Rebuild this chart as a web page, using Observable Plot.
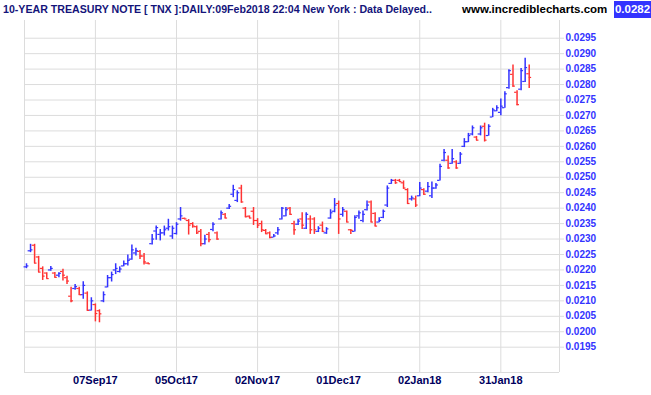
<!DOCTYPE html>
<html>
<head>
<meta charset="utf-8">
<script src="https://cdn.jsdelivr.net/npm/d3@7"></script>
<script src="https://cdn.jsdelivr.net/npm/@observablehq/plot@0.6"></script>
<style>
  html, body { margin: 0; padding: 0; background: #fff; }
  body { width: 651px; height: 395px; overflow: hidden; font-family: "Liberation Sans", Arial, sans-serif; }
  #hdr { position: relative; height: 20px; width: 651px; }
  #hdr span { position: absolute; white-space: nowrap; font-weight: bold; }
  #ttl { left: 3px; top: 3px; font-size: 11.5px; color: #14147a; transform-origin: 0 50%; }
  #url { left: 462px; top: 3px; font-size: 11.5px; color: #000; }
  #last { left: 614px; top: 1px; width: 37px; height: 17px; line-height: 17px; font-size: 11.5px; color: #fff; background: #3333ff; text-align: center; }
  #chart svg { display: block; }
  g[aria-label="y-axis tick"] { stroke: #dcdcdc !important; }
</style>
</head>
<body>
<div id="hdr">
  <span id="ttl">10-YEAR TREASURY NOTE [ TNX ]:DAILY:09Feb2018 22:04 New York : Data Delayed..</span>
  <span id="url">www.incrediblecharts.com</span>
  <span id="last">0.0282</span>
</div>
<div id="chart"></div>
<script>
// Daily OHLC, 10-year Treasury note (TNX), 14 Aug 2017 .. 09 Feb 2018 (trading days)
const open = [
  0.02210,0.02262,0.02280,0.02242,0.02205,0.02190,0.02200,0.02190,0.02183,0.02195,
  0.02175,0.02115,0.02140,0.02140,0.02120,0.02125,0.02070,0.02088,0.02068,0.02100,
  0.02145,0.02175,0.02200,0.02195,0.02213,0.02220,0.02235,0.02255,0.02260,0.02245,
  0.02222,0.02285,0.02326,0.02315,0.02320,0.02335,0.02310,0.02318,0.02365,0.02367,
  0.02360,0.02350,0.02340,0.02325,0.02285,0.02315,0.02331,0.02320,0.02365,0.02380,
  0.02400,0.02445,0.02425,0.02465,0.02400,0.02374,0.02390,0.02360,0.02350,0.02328,
  0.02320,0.02306,0.02320,0.02365,0.02375,0.02400,0.02350,0.02348,0.02365,0.02335,
  0.02365,0.02365,0.02325,0.02345,0.02320,0.02368,0.02390,0.02415,0.02380,0.02390,
  0.02330,0.02325,0.02375,0.02360,0.02395,0.02420,0.02383,0.02355,0.02370,0.02410,
  0.02480,0.02490,0.02490,0.02482,0.02460,0.02430,0.02430,0.02440,0.02460,0.02455,
  0.02440,0.02465,0.02490,0.02555,0.02555,0.02545,0.02550,0.02545,0.02600,0.02615,
  0.02640,0.02630,0.02640,0.02665,0.02635,0.02695,0.02715,0.02710,0.02725,0.02790,
  0.02833,0.02775,0.02785,0.02810,0.02835
];
const high = [
  0.02220,0.02283,0.02283,0.02244,0.02210,0.02191,0.02211,0.02192,0.02191,0.02202,
  0.02180,0.02144,0.02153,0.02144,0.02162,0.02129,0.02110,0.02090,0.02071,0.02129,
  0.02182,0.02193,0.02220,0.02210,0.02229,0.02248,0.02281,0.02270,0.02263,0.02253,
  0.02223,0.02315,0.02342,0.02331,0.02342,0.02364,0.02342,0.02353,0.02402,0.02368,
  0.02363,0.02353,0.02342,0.02331,0.02312,0.02321,0.02353,0.02323,0.02391,0.02383,
  0.02412,0.02474,0.02456,0.02474,0.02402,0.02375,0.02402,0.02366,0.02358,0.02331,
  0.02323,0.02315,0.02337,0.02402,0.02402,0.02402,0.02358,0.02364,0.02385,0.02385,
  0.02375,0.02369,0.02340,0.02355,0.02337,0.02395,0.02431,0.02423,0.02402,0.02391,
  0.02331,0.02375,0.02391,0.02391,0.02423,0.02423,0.02385,0.02369,0.02394,0.02472,
  0.02493,0.02493,0.02493,0.02488,0.02463,0.02439,0.02439,0.02483,0.02463,0.02483,
  0.02485,0.02480,0.02542,0.02590,0.02569,0.02590,0.02553,0.02580,0.02625,0.02642,
  0.02666,0.02632,0.02666,0.02675,0.02670,0.02723,0.02731,0.02753,0.02777,0.02848,
  0.02863,0.02780,0.02852,0.02885,0.02863
];
const low = [
  0.02204,0.02256,0.02220,0.02191,0.02166,0.02171,0.02196,0.02174,0.02175,0.02164,
  0.02153,0.02094,0.02134,0.02118,0.02105,0.02067,0.02067,0.02032,0.02029,0.02094,
  0.02142,0.02161,0.02185,0.02190,0.02210,0.02213,0.02231,0.02245,0.02234,0.02216,
  0.02218,0.02281,0.02296,0.02294,0.02310,0.02326,0.02299,0.02313,0.02358,0.02364,
  0.02313,0.02335,0.02315,0.02275,0.02281,0.02288,0.02324,0.02296,0.02362,0.02366,
  0.02396,0.02434,0.02418,0.02416,0.02369,0.02366,0.02344,0.02334,0.02321,0.02315,
  0.02301,0.02304,0.02312,0.02362,0.02372,0.02377,0.02312,0.02344,0.02331,0.02331,
  0.02315,0.02315,0.02321,0.02321,0.02315,0.02364,0.02385,0.02315,0.02371,0.02353,
  0.02315,0.02323,0.02364,0.02353,0.02391,0.02353,0.02340,0.02353,0.02366,0.02402,
  0.02477,0.02477,0.02483,0.02461,0.02412,0.02423,0.02402,0.02437,0.02442,0.02450,
  0.02431,0.02461,0.02488,0.02550,0.02526,0.02542,0.02526,0.02542,0.02596,0.02612,
  0.02634,0.02618,0.02634,0.02614,0.02633,0.02693,0.02712,0.02699,0.02723,0.02785,
  0.02791,0.02731,0.02780,0.02807,0.02787
];
const close = [
  0.02213,0.02265,0.02222,0.02193,0.02180,0.02172,0.02205,0.02176,0.02189,0.02183,
  0.02164,0.02100,0.02146,0.02120,0.02150,0.02069,0.02100,0.02059,0.02058,0.02120,
  0.02175,0.02185,0.02205,0.02203,0.02220,0.02231,0.02265,0.02262,0.02245,0.02226,
  0.02220,0.02300,0.02337,0.02320,0.02330,0.02340,0.02335,0.02348,0.02375,0.02365,
  0.02345,0.02342,0.02320,0.02285,0.02300,0.02298,0.02348,0.02300,0.02385,0.02368,
  0.02406,0.02460,0.02450,0.02420,0.02372,0.02368,0.02360,0.02345,0.02330,0.02317,
  0.02305,0.02310,0.02330,0.02400,0.02395,0.02380,0.02330,0.02358,0.02345,0.02380,
  0.02330,0.02330,0.02335,0.02325,0.02333,0.02385,0.02410,0.02365,0.02395,0.02355,
  0.02328,0.02370,0.02385,0.02380,0.02410,0.02355,0.02342,0.02360,0.02390,0.02465,
  0.02490,0.02482,0.02486,0.02465,0.02415,0.02433,0.02410,0.02465,0.02445,0.02470,
  0.02465,0.02475,0.02535,0.02580,0.02530,0.02560,0.02530,0.02575,0.02615,0.02635,
  0.02660,0.02620,0.02660,0.02620,0.02665,0.02718,0.02725,0.02730,0.02770,0.02845,
  0.02795,0.02735,0.02845,0.02855,0.02823
];
const xTickIdx = [17, 37, 57, 77, 97, 117];
const xTickLabels = ["07Sep17", "05Oct17", "02Nov17", "01Dec17", "02Jan18", "31Jan18"];
const yTicks = [0.0195,0.0200,0.0205,0.0210,0.0215,0.0220,0.0225,0.0230,0.0235,0.0240,
  0.0245,0.0250,0.0255,0.0260,0.0265,0.0270,0.0275,0.0280,0.0285,0.0290,0.0295];

const UP = "#3333ff", DOWN = "#ff3333", GRID = "#dcdcdc";
const data = open.map((o, i) => ({i, o, h: high[i], l: low[i], c: close[i], col: close[i] >= o ? UP : DOWN}));

const xDomain = [-0.49, 131.47];
const yDomain = [0.018681, 0.030073];

const chart = Plot.plot({
  width: 651,
  height: 375,
  marginTop: 0,
  marginBottom: 23,
  marginLeft: 24,
  marginRight: 92,
  style: {fontFamily: "'Liberation Sans', Arial, sans-serif", background: "#fff"},
  x: {domain: xDomain, axis: null, label: null},
  y: {domain: yDomain, axis: null, label: null},
  marks: [
    Plot.gridY(yTicks, {stroke: GRID, strokeOpacity: 1}),
    Plot.gridX(xTickIdx, {stroke: GRID, strokeOpacity: 1}),
    Plot.ruleX([xDomain[0], xDomain[1]], {stroke: GRID}),
    Plot.ruleY([yDomain[0]], {stroke: GRID}),
    Plot.axisY(yTicks, {
      anchor: "right", tickSize: 4, tickPadding: 2, label: null,
      tickFormat: d3.format(".4f"),
      fontSize: 10, fontWeight: "bold", color: "#3333ff"
    }),
    Plot.axisX(xTickIdx, {
      anchor: "bottom", tickSize: 0, tickPadding: 4, label: null,
      tickFormat: d => xTickLabels[xTickIdx.indexOf(d)],
      fontSize: 11, fontWeight: "bold", color: "#00005e"
    }),
    Plot.ruleX(data, {x: "i", y1: "l", y2: "h", stroke: "col", strokeWidth: 1.5}),
    Plot.ruleY(data, {y: "o", x1: d => d.i - 0.6, x2: "i", stroke: "col", strokeWidth: 1.2}),
    Plot.ruleY(data, {y: "c", x1: "i", x2: d => d.i + 0.6, stroke: "col", strokeWidth: 1.2})
  ]
});
document.getElementById("chart").append(chart);

// fit the condensed title to its width in the reference
const ttl = document.getElementById("ttl");
const w = ttl.getBoundingClientRect().width;
ttl.style.transform = `scaleX(${(429 / w).toFixed(4)})`;
</script>
</body>
</html>
